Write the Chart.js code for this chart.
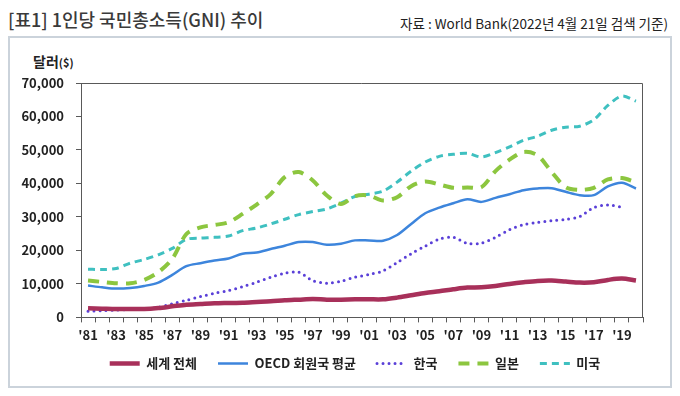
<!DOCTYPE html>
<html>
<head>
<meta charset="utf-8">
<script src="https://cdn.jsdelivr.net/npm/chart.js@4.4.1/dist/chart.umd.min.js"></script>
<style>
  body { margin: 0; width: 680px; height: 396px; background: #fff; position: relative; overflow: hidden;
         font-family: "Noto Sans CJK KR", sans-serif; }
  #title { position: absolute; left: 8px; top: 10px; font-size: 18px; line-height: 1; font-weight: 500; color: #3a3a3a; }
  #src { position: absolute; right: 12px; top: 17px; font-size: 13.5px; line-height: 1; color: #222; }
  #frame { position: absolute; left: 8px; top: 36px; width: 660px; height: 348px; border: 2px solid #cbd3db; }
  #unit { position: absolute; left: 33px; top: 54px; font-size: 14px; line-height: 1; font-weight: bold; color: #222; }
  #unit small { font-size: 11px; }
  canvas { position: absolute; left: 0; top: 0; }
</style>
</head>
<body>
<div id="title">[표1] 1인당 국민총소득(GNI) 추이</div>
<div id="src">자료 : World Bank(2022년 4월 21일 검색 기준)</div>
<div id="frame"></div>
<div id="unit">달러<small>($)</small></div>
<canvas id="chart" width="680" height="396"></canvas>
<script>
const labels = ["'81","'82","'83","'84","'85","'86","'87","'88","'89","'90",
                "'91","'92","'93","'94","'95","'96","'97","'98","'99","'00",
                "'01","'02","'03","'04","'05","'06","'07","'08","'09","'10",
                "'11","'12","'13","'14","'15","'16","'17","'18","'19","'20"];

const world = [2700, 2600, 2500, 2500, 2500, 2800, 3300, 3800, 4000, 4200,
               4300, 4400, 4600, 4800, 5100, 5300, 5500, 5300, 5300, 5400,
               5400, 5400, 5900, 6600, 7300, 7800, 8400, 8900, 9000, 9400,
               10000, 10500, 10900, 11000, 10700, 10400, 10500, 11200, 11600, 11000];

const oecd = [9500, 9000, 8600, 8800, 9400, 10400, 12700, 15300, 16200, 17000,
              17600, 19000, 19400, 20400, 21400, 22500, 22500, 21700, 22000, 23000,
              23000, 22900, 24600, 27900, 31100, 32800, 34100, 35300, 34500, 35700,
              36800, 38000, 38500, 38600, 37500, 36500, 36500, 39100, 40200, 38500];

const korea = [1800, 2000, 2200, 2400, 2600, 3000, 4100, 5100, 6200, 7200,
               8000, 9200, 10500, 12000, 13200, 13500, 11000, 10200, 10800, 12000,
               12800, 13900, 16400, 19000, 21300, 23400, 23900, 22100, 22200, 23900,
               26200, 27700, 28400, 28900, 29300, 30100, 32800, 33600, 32900, null];

const japan = [11000, 10600, 10200, 10200, 11200, 13500, 17500, 24900, 26900, 27600,
               28400, 30900, 33700, 36800, 41900, 43400, 40900, 36400, 33900, 36200,
               36400, 34900, 35900, 39200, 40600, 39700, 38700, 38800, 38900, 43700,
               47100, 49400, 48400, 43400, 38900, 38100, 38700, 41200, 41600, 40400];

const usa = [14400, 14300, 14600, 16200, 17300, 18700, 20600, 23300, 23700, 23900,
             24300, 25900, 26700, 27900, 29300, 30700, 31600, 32400, 34100, 36100,
             36800, 37700, 40400, 43700, 46400, 48100, 48700, 49000, 47900, 49200,
             50900, 52900, 54100, 55900, 56800, 57100, 59000, 63300, 66100, 64600];

const axisColor = "#595959";
const tickFont = { family: '"Noto Sans CJK KR", sans-serif', size: 13, weight: "bold" };

// box around the plot area (top and right edges), and nudge the legend up/left
const plotBox = {
  id: "plotBox",
  afterLayout(chart) {
    const l = chart.legend;
    l.top -= 12; l.bottom -= 12;
    l.left -= 7; l.right -= 7;
  },
  afterDatasetsDraw(chart) {
    const { ctx, chartArea: a } = chart;
    ctx.save();
    ctx.strokeStyle = axisColor;
    ctx.lineWidth = 1;
    ctx.beginPath();
    ctx.moveTo(a.left, a.top + 0.5);
    ctx.lineTo(a.right - 0.5, a.top + 0.5);
    ctx.lineTo(a.right - 0.5, a.bottom);
    ctx.stroke();
    ctx.restore();
  }
};

function line(label, data, color, width, dash, cap) {
  return {
    label: label,
    data: data,
    borderColor: color,
    backgroundColor: color,
    borderWidth: width,
    borderDash: dash,
    borderCapStyle: cap,
    pointRadius: 0,
    tension: 0.3,
    fill: false,
    spanGaps: false
  };
}

// legend samples take the dash / cap / width of the line, not of the point
function legendLabels(chart) {
  return Chart.defaults.plugins.legend.labels.generateLabels(chart).map(item => {
    const ds = chart.data.datasets[item.datasetIndex];
    item.lineDash = ds.borderDash;
    item.lineCap = ds.borderCapStyle;
    item.lineWidth = ds.borderWidth;
    item.strokeStyle = ds.borderColor;
    return item;
  });
}

new Chart(document.getElementById("chart").getContext("2d"), {
  type: "line",
  data: {
    labels: labels,
    datasets: [
      line("세계 전체", world, "#a8305a", 4.5, [], "butt"),
      line("OECD 회원국 평균", oecd, "#3d85dc", 2.5, [], "butt"),
      line("한국", korea, "#5a40d8", 3, [0, 6], "round"),
      line("일본", japan, "#8cc63f", 4, [11, 8], "butt"),
      line("미국", usa, "#3fc0c0", 3, [7, 5], "butt")
    ]
  },
  options: {
    responsive: false,
    animation: false,
    layout: { padding: { top: 83, right: 37, bottom: 4, left: 8 } },
    plugins: {
      tooltip: { enabled: false },
      legend: {
        position: "bottom",
        fullSize: false,
        labels: {
          usePointStyle: true,
          pointStyle: "line",
          pointStyleWidth: 30,
          padding: 21,
          color: "#222",
          font: tickFont,
          generateLabels: legendLabels
        }
      }
    },
    scales: {
      x: {
        offset: true,
        grid: { display: true, offset: true, drawOnChartArea: false, drawTicks: true, tickLength: 5, color: axisColor },
        border: { color: axisColor, width: 1 },
        ticks: {
          autoSkip: false,
          maxRotation: 0,
          padding: 5,
          color: "#222",
          font: tickFont,
          callback: (v, i) => (i % 2 === 0 ? labels[i] : "")
        }
      },
      y: {
        min: 0,
        max: 70000,
        grid: { drawOnChartArea: false, drawTicks: true, tickLength: 5, color: axisColor },
        border: { color: axisColor, width: 1 },
        ticks: {
          stepSize: 10000,
          padding: 12,
          color: "#222",
          font: tickFont,
          callback: v => v.toLocaleString("en-US")
        },
        afterFit: s => { s.width = 73; }
      }
    }
  },
  plugins: [plotBox]
});
</script>
</body>
</html>
